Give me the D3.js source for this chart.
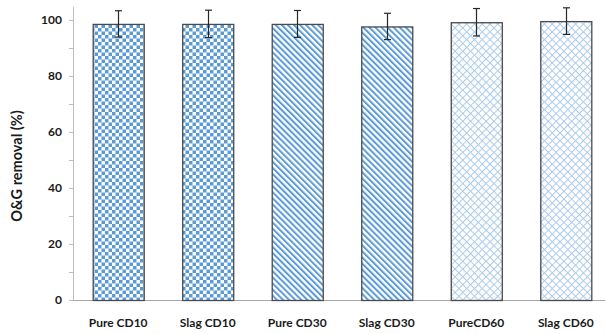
<!DOCTYPE html>
<html>
<head>
<meta charset="utf-8">
<script src="https://cdn.jsdelivr.net/npm/d3@7"></script>
<style>
  html, body { margin: 0; padding: 0; background: #fff; }
  svg { display: block; }
  text { font-family: "Lato", "Liberation Sans", sans-serif; font-weight: bold; fill: #1a1a1a; }
</style>
</head>
<body>
<svg id="chart" width="606" height="334"></svg>
<script>
// Samples and their oil & grease removal (%)
const categories = ["Pure CD10", "Slag CD10", "Pure CD30", "Slag CD30", "PureCD60", "Slag CD60"];
const removal = [98.6, 98.6, 98.6, 97.7, 99.2, 99.6];
const errors = [4.7, 4.9, 4.8, 4.7, 4.9, 4.75];
const fills = ["checker", "checker", "stripes", "stripes", "lattice", "lattice"];
const yTicks = [0, 20, 40, 60, 80, 100];
const yMinorTicks = [0, 10, 20, 30, 40, 50, 60, 70, 80, 90, 100];

const svg = d3.select("#chart");
const margin = { left: 73, right: 0, top: 7, bottom: 34 };
const width = 606, height = 334;
const plotBottom = height - margin.bottom; // 300

const x = d3.scaleBand().domain(categories).range([margin.left, 611]).paddingInner(0.43).paddingOuter(0.22);
const y = d3.scaleLinear().domain([0, 100]).range([plotBottom, 20]);

// Fill patterns
const defs = svg.append("defs");
const checker = defs.append("pattern").attr("id", "checker")
  .attr("patternUnits", "userSpaceOnUse").attr("width", 7).attr("height", 7);
checker.append("rect").attr("width", 7).attr("height", 7).attr("fill", "#ffffff");
checker.append("rect").attr("width", 3.5).attr("height", 3.5).attr("fill", "#5b9bd5");
checker.append("rect").attr("x", 3.5).attr("y", 3.5).attr("width", 3.5).attr("height", 3.5).attr("fill", "#5b9bd5");

const stripes = defs.append("pattern").attr("id", "stripes")
  .attr("patternUnits", "userSpaceOnUse").attr("width", 4.3).attr("height", 4.3)
  .attr("patternTransform", "rotate(-45)");
stripes.append("rect").attr("width", 4.3).attr("height", 4.3).attr("fill", "#ffffff");
stripes.append("rect").attr("width", 2).attr("height", 4.3).attr("fill", "#5b9bd5");

const lattice = defs.append("pattern").attr("id", "lattice")
  .attr("patternUnits", "userSpaceOnUse").attr("width", 5.5).attr("height", 5.5)
  .attr("patternTransform", "rotate(45)");
lattice.append("rect").attr("width", 5.5).attr("height", 5.5).attr("fill", "#ffffff");
lattice.append("rect").attr("width", 1).attr("height", 5.5).attr("fill", "#a9cbea");
lattice.append("rect").attr("width", 5.5).attr("height", 1).attr("fill", "#a9cbea");

// Y axis
const yAxis = svg.append("g");
yAxis.append("line")
  .attr("x1", margin.left + 0.5).attr("x2", margin.left + 0.5)
  .attr("y1", margin.top).attr("y2", plotBottom)
  .attr("stroke", "#bfbfbf").attr("stroke-width", 1);
yAxis.selectAll(".tick")
  .data(yMinorTicks).enter().append("line")
  .attr("x1", margin.left - 4).attr("x2", margin.left)
  .attr("y1", d => Math.round(y(d)) + 0.5).attr("y2", d => Math.round(y(d)) + 0.5)
  .attr("stroke", "#bfbfbf");
yAxis.selectAll(".lbl")
  .data(yTicks).enter().append("text")
  .attr("x", 62).attr("y", d => y(d)).attr("dy", "0.35em")
  .attr("text-anchor", "end").attr("font-size", 12)
  .text(d => d);

// X axis baseline
svg.append("line")
  .attr("x1", margin.left).attr("x2", 605)
  .attr("y1", plotBottom + 0.5).attr("y2", plotBottom + 0.5)
  .attr("stroke", "#a6a6a6");

// Bars
const data = categories.map((c, i) => ({ c, v: removal[i], e: errors[i], f: fills[i] }));
svg.append("g").selectAll("rect").data(data).enter().append("rect")
  .attr("x", d => x(d.c) + 0.5)
  .attr("y", d => y(d.v) + 0.5)
  .attr("width", x.bandwidth())
  .attr("height", d => plotBottom - y(d.v))
  .attr("fill", d => `url(#${d.f})`)
  .attr("stroke", "#4a4a4a").attr("stroke-width", 1.3);

// Error bars
const eb = svg.append("g").attr("stroke", "#262626").attr("stroke-width", 1.2);
data.forEach(d => {
  const cx = Math.round(x(d.c) + x.bandwidth() / 2) + 0.5;
  eb.append("line").attr("x1", cx).attr("x2", cx).attr("y1", y(d.v + d.e)).attr("y2", y(d.v - d.e));
  eb.append("line").attr("x1", cx - 3.5).attr("x2", cx + 3.5).attr("y1", y(d.v + d.e)).attr("y2", y(d.v + d.e));
  eb.append("line").attr("x1", cx - 3.5).attr("x2", cx + 3.5).attr("y1", y(d.v - d.e)).attr("y2", y(d.v - d.e));
});

// Category labels
svg.append("g").selectAll("text").data(categories).enter().append("text")
  .attr("x", d => x(d) + x.bandwidth() / 2)
  .attr("y", 327)
  .attr("text-anchor", "middle").attr("font-size", 12)
  .text(d => d);

// Y axis title
svg.append("text")
  .attr("transform", `translate(22,${166}) rotate(-90)`)
  .attr("text-anchor", "middle").attr("font-size", 14.5)
  .text("O&G removal (%)");
</script>
</body>
</html>
